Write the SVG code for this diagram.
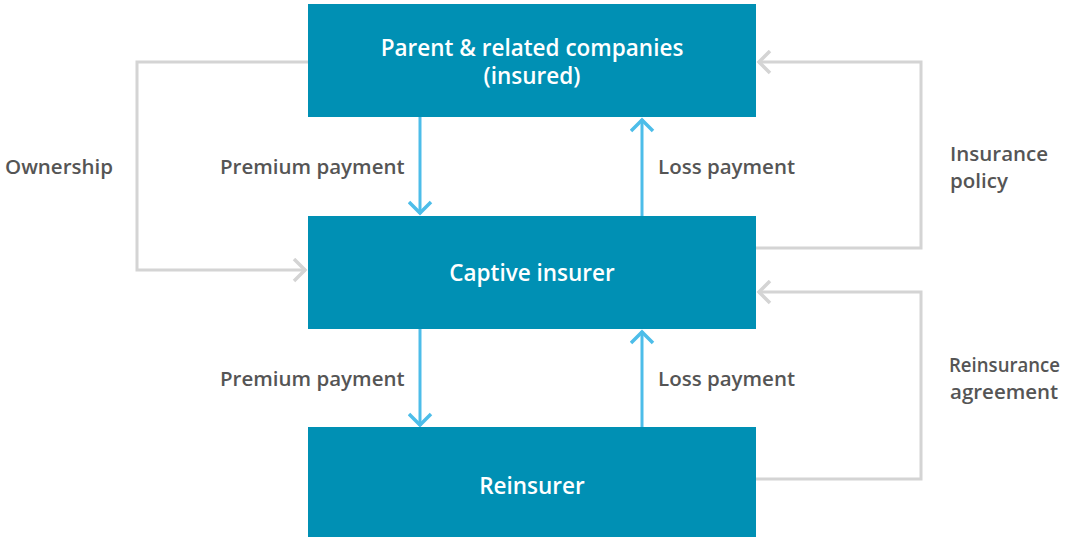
<svg xmlns="http://www.w3.org/2000/svg" width="1070" height="537" viewBox="0 0 1070 537">
<defs>
<style>
.node{fill:#0090b4}
.nt{font-family:"Open Sans","Liberation Sans",sans-serif;font-weight:600;font-size:22.5px;fill:#ffffff;text-anchor:middle}
.lb{font-family:"Open Sans","Liberation Sans",sans-serif;font-weight:600;font-size:20.5px;fill:#555555}
.blue{stroke:#4dbde9;stroke-width:3;fill:none}
.gray{stroke:#d4d4d4;stroke-width:3;fill:none}
</style>
<marker id="ab" viewBox="0 0 16 25" refX="14" refY="12.5" markerWidth="16" markerHeight="25" markerUnits="userSpaceOnUse" orient="auto">
<path d="M2,1.5 L13,12.5 L2,23.5" fill="none" stroke="#4dbde9" stroke-width="3.5"/>
</marker>
<marker id="ag" viewBox="0 0 16 25" refX="14" refY="12.5" markerWidth="16" markerHeight="25" markerUnits="userSpaceOnUse" orient="auto">
<path d="M2,1.5 L13,12.5 L2,23.5" fill="none" stroke="#d4d4d4" stroke-width="3.5"/>
</marker>
</defs>
<rect width="1070" height="537" fill="#ffffff"/>
<g id="connectors">
<line class="blue" x1="420" y1="117" x2="420" y2="214" marker-end="url(#ab)"/>
<line class="blue" x1="642" y1="216" x2="642" y2="119" marker-end="url(#ab)"/>
<line class="blue" x1="420" y1="329" x2="420" y2="426" marker-end="url(#ab)"/>
<line class="blue" x1="642" y1="427" x2="642" y2="331" marker-end="url(#ab)"/>
<polyline class="gray" points="308,62 137,62 137,270 306,270" marker-end="url(#ag)"/>
<polyline class="gray" points="756,248 921,248 921,62 758,62" marker-end="url(#ag)"/>
<polyline class="gray" points="756,479 921,479 921,292 758,292" marker-end="url(#ag)"/>
</g>
<g id="parent">
<rect class="node" x="308" y="4" width="448" height="113"/>
<text class="nt" x="532" y="56">Parent &amp; related companies</text>
<text class="nt" x="532" y="84">(insured)</text>
</g>
<g id="captive">
<rect class="node" x="308" y="216" width="448" height="113"/>
<text class="nt" x="532" y="281">Captive insurer</text>
</g>
<g id="reinsurer">
<rect class="node" x="308" y="427" width="448" height="110"/>
<text class="nt" x="532" y="494">Reinsurer</text>
</g>
<g id="labels">
<text class="lb" x="5" y="174">Ownership</text>
<text class="lb" x="220" y="174">Premium payment</text>
<text class="lb" x="658" y="174">Loss payment</text>
<text class="lb" x="950" y="161">Insurance</text>
<text class="lb" x="950" y="188">policy</text>
<text class="lb" x="220" y="386">Premium payment</text>
<text class="lb" x="658" y="386">Loss payment</text>
<text class="lb" x="949" y="372" textLength="111" lengthAdjust="spacingAndGlyphs">Reinsurance</text>
<text class="lb" x="950" y="399">agreement</text>
</g>
</svg>
